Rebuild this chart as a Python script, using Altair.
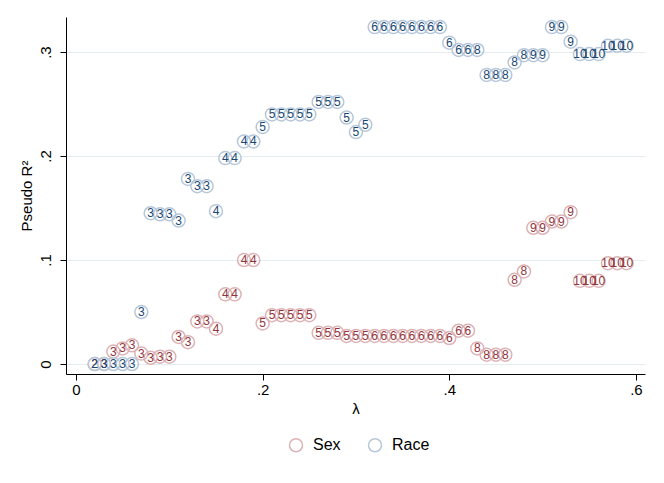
import altair as alt
import pandas as pd

lam = [0.02, 0.03, 0.04, 0.05, 0.06, 0.07, 0.08, 0.09, 0.10, 0.11,
       0.12, 0.13, 0.14, 0.15, 0.16, 0.17, 0.18, 0.19, 0.20, 0.21,
       0.22, 0.23, 0.24, 0.25, 0.26, 0.27, 0.28, 0.29, 0.30, 0.31,
       0.32, 0.33, 0.34, 0.35, 0.36, 0.37, 0.38, 0.39, 0.40, 0.41,
       0.42, 0.43, 0.44, 0.45, 0.46, 0.47, 0.48, 0.49, 0.50, 0.51,
       0.52, 0.53, 0.54, 0.55, 0.56, 0.57, 0.58, 0.59]

nvars = [2, 3, 3, 3, 3, 3, 3, 3, 3, 3,
         3, 3, 3, 4, 4, 4, 4, 4, 5, 5,
         5, 5, 5, 5, 5, 5, 5, 5, 5, 5,
         6, 6, 6, 6, 6, 6, 6, 6, 6, 6,
         6, 8, 8, 8, 8, 8, 8, 9, 9, 9,
         9, 9, 10, 10, 10, 10, 10, 10]

sex_r2 = [0.000, 0.000, 0.012, 0.015, 0.018, 0.010, 0.006, 0.007, 0.007, 0.026,
          0.021, 0.041, 0.041, 0.034, 0.067, 0.067, 0.100, 0.100, 0.039, 0.047,
          0.047, 0.047, 0.047, 0.047, 0.030, 0.030, 0.030, 0.027, 0.027, 0.027,
          0.027, 0.027, 0.027, 0.027, 0.027, 0.027, 0.027, 0.027, 0.025, 0.032,
          0.032, 0.015, 0.009, 0.009, 0.009, 0.081, 0.089, 0.131, 0.131, 0.137,
          0.137, 0.146, 0.080, 0.080, 0.080, 0.097, 0.097, 0.097]

race_r2 = [0.000, 0.000, 0.000, 0.000, 0.000, 0.050, 0.145, 0.144, 0.144, 0.138,
           0.178, 0.171, 0.171, 0.147, 0.198, 0.198, 0.214, 0.214, 0.228, 0.240,
           0.240, 0.240, 0.240, 0.240, 0.252, 0.252, 0.252, 0.237, 0.223, 0.230,
           0.324, 0.324, 0.324, 0.324, 0.324, 0.324, 0.324, 0.324, 0.309, 0.302,
           0.302, 0.302, 0.278, 0.278, 0.278, 0.290, 0.297, 0.297, 0.297, 0.324,
           0.324, 0.310, 0.298, 0.298, 0.298, 0.306, 0.306, 0.306]

series = ["Sex", "Race"]
ring_colors = ["#dcb3b6", "#b7c7da"]
text_colors = ["#90353b", "#1a476f"]

rows = []
for s, vals in zip(series, [sex_r2, race_r2]):
    for l, v, n in zip(lam, vals, nvars):
        rows.append({"lambda": l, "r2": v, "label": str(n), "series": s})
df = pd.DataFrame(rows)

FONT = "Liberation Sans"

x = alt.X("lambda:Q", title="λ",
          scale=alt.Scale(domain=[-0.0107, 0.6097], nice=False, zero=False),
          axis=alt.Axis(values=[0, 0.2, 0.4, 0.6], grid=False, labelPadding=2,
                        titlePadding=4,
                        labelExpr="datum.value == 0 ? '0' : replace(format(datum.value, '.1f'), '0.', '.')"))
y = alt.Y("r2:Q", title="Pseudo R²",
          scale=alt.Scale(domain=[-0.0096, 0.3337], nice=False, zero=False),
          axis=alt.Axis(values=[0, 0.1, 0.2, 0.3], grid=True, labelAngle=270,
                        labelAlign="center", labelBaseline="bottom", labelPadding=7,
                        titlePadding=4,
                        labelExpr="datum.value == 0 ? '0' : replace(format(datum.value, '.1f'), '0.', '.')"))

points = alt.Chart(df).mark_point(filled=False, size=169, strokeWidth=1.5, opacity=1).encode(
    x=x, y=y,
    stroke=alt.Stroke("series:N",
                      scale=alt.Scale(domain=series, range=ring_colors),
                      legend=alt.Legend(orient="none", legendX=222, legendY=420,
                                        direction="horizontal", title=None,
                                        symbolType="circle", symbolSize=169,
                                        symbolStrokeWidth=1.5, symbolFillColor="transparent",
                                        labelFontSize=16,
                                        labelFont=FONT, labelColor="#000000",
                                        columnPadding=24, labelOffset=9, padding=0)),
)

text_layers = []
for s, c in zip(series, text_colors):
    text_layers.append(
        alt.Chart(df).transform_filter(alt.datum.series == s)
        .mark_text(fontSize=12, font=FONT, align="center", baseline="middle", color=c)
        .encode(x=x, y=y, text="label:N")
    )

chart = alt.layer(points, *text_layers).properties(
    width=579, height=357,
    padding={"left": 58, "top": 9, "right": 11, "bottom": 100},
    autosize=alt.AutoSizeParams(type="none"),
).configure_view(stroke=None).configure_axis(
    domainColor="#000000", domainWidth=1, tickColor="#000000", tickSize=6,
    labelFont=FONT, titleFont=FONT, labelFontSize=15, titleFontSize=15,
    labelColor="#000000", titleColor="#000000", titleFontWeight="normal",
    gridColor="#e6edf0", gridWidth=1,
)

chart.save("out.html", embed_options={"renderer": "svg", "actions": False})
